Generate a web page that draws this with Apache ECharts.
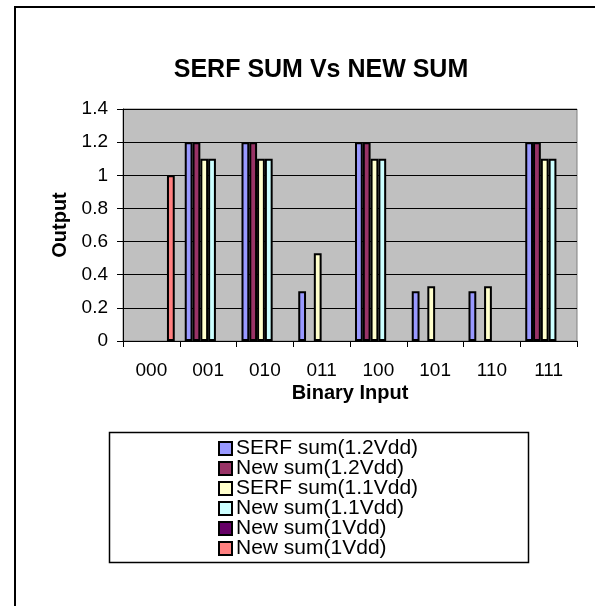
<!DOCTYPE html>
<html>
<head>
<meta charset="utf-8">
<script src="https://cdn.jsdelivr.net/npm/echarts@6/dist/echarts.min.js"></script>
<style>
html,body{margin:0;padding:0;background:#fff;}
#chart{width:595px;height:606px;}
</style>
</head>
<body>
<div id="chart"></div>
<script>
const categories = ['000','001','010','011','100','101','110','111'];
const serfSum12 = [null, 1.2, 1.2, 0.3, 1.2, 0.3, 0.3, 1.2];
const newSum12  = [null, 1.2, 1.2, null, 1.2, null, null, 1.2];
const serfSum11 = [null, 1.1, 1.1, 0.53, 1.1, 0.33, 0.33, 1.1];
const newSum11  = [null, 1.1, 1.1, null, 1.1, null, null, 1.1];
const newSum1a  = [null, null, null, null, null, null, null, null];
const newSum1b  = [1.0, null, null, null, null, null, null, null];
const seriesNames = ['SERF sum(1.2Vdd)','New sum(1.2Vdd)','SERF sum(1.1Vdd)','New sum(1.1Vdd)','New sum(1Vdd)','New sum(1Vdd) '];
const seriesData = [serfSum12, newSum12, serfSum11, newSum11, newSum1a, newSum1b];
const colors = ['#9999FF','#993366','#FFFFCC','#CCFFFF','#660066','#FF8080'];
const yTicks = {min: 0, max: 1.4, interval: 0.2};

const FONT = "Arial, 'Liberation Sans', sans-serif";
const chart = echarts.init(document.getElementById('chart'), null, {renderer: 'canvas'});

const series = seriesNames.map((n, i) => ({
  name: n,
  type: 'bar',
  data: seriesData[i],
  barGap: '0%',
  barCategoryGap: '17.6%',
  itemStyle: {color: colors[i], borderColor: '#000', borderWidth: 2},
  emphasis: {disabled: true},
  animation: false
}));

chart.setOption({
  animation: false,
  textStyle: {fontFamily: FONT},
  title: {
    text: 'SERF SUM Vs NEW SUM',
    left: 316, top: 53, textAlign: 'center',
    textStyle: {fontFamily: FONT, fontSize: 25, fontWeight: 'bold', color: '#000'}
  },
  graphic: [
    {type: 'rect', shape: {x: 15, y: 7, width: 700, height: 700}, style: {fill: 'none', stroke: '#000', lineWidth: 2}, silent: true, z: 100},
    {type: 'rect', shape: {x: 109.5, y: 432.5, width: 419, height: 130}, style: {fill: '#fff', stroke: '#000', lineWidth: 1.5}, silent: true, z: 0}
  ],
  legend: {
    orient: 'vertical',
    left: 218, top: 438,
    padding: 0,
    itemGap: -1,
    itemWidth: 13, itemHeight: 13,
    icon: 'rect',
    itemStyle: {borderColor: '#000', borderWidth: 2},
    textStyle: {fontFamily: FONT, fontSize: 21, color: '#000', lineHeight: 20, padding: [0,0,0,-1]},
    data: seriesNames,
    z: 10
  },
  grid: {left: 123, right: 18, top: 109, bottom: 265, show: true, backgroundColor: '#C0C0C0', borderColor: '#808080', borderWidth: 1},
  xAxis: {
    type: 'category',
    data: categories,
    boundaryGap: true,
    name: 'Binary Input',
    nameLocation: 'middle',
    nameGap: 42,
    nameTextStyle: {fontFamily: FONT, fontSize: 20, fontWeight: 'bold', color: '#000'},
    axisLine: {lineStyle: {color: '#000', width: 1}},
    axisTick: {show: true, length: 6, alignWithLabel: false, lineStyle: {color: '#000'}},
    axisLabel: {fontFamily: FONT, fontSize: 19, color: '#000', margin: 20, interval: 0},
    splitLine: {show: false}
  },
  yAxis: {
    type: 'value',
    min: yTicks.min, max: yTicks.max, interval: yTicks.interval,
    name: 'Output',
    nameLocation: 'middle',
    nameRotate: 90,
    nameGap: 52,
    nameTextStyle: {fontFamily: FONT, fontSize: 20, fontWeight: 'bold', color: '#000'},
    axisLine: {show: true, lineStyle: {color: '#000', width: 1}},
    axisTick: {show: true, length: 6, lineStyle: {color: '#000'}},
    axisLabel: {fontFamily: FONT, fontSize: 19, color: '#000', margin: 15, formatter: v => String(+v.toFixed(1))},
    splitLine: {show: true, lineStyle: {color: '#000', width: 1}}
  },
  series: series
});
</script>
</body>
</html>
